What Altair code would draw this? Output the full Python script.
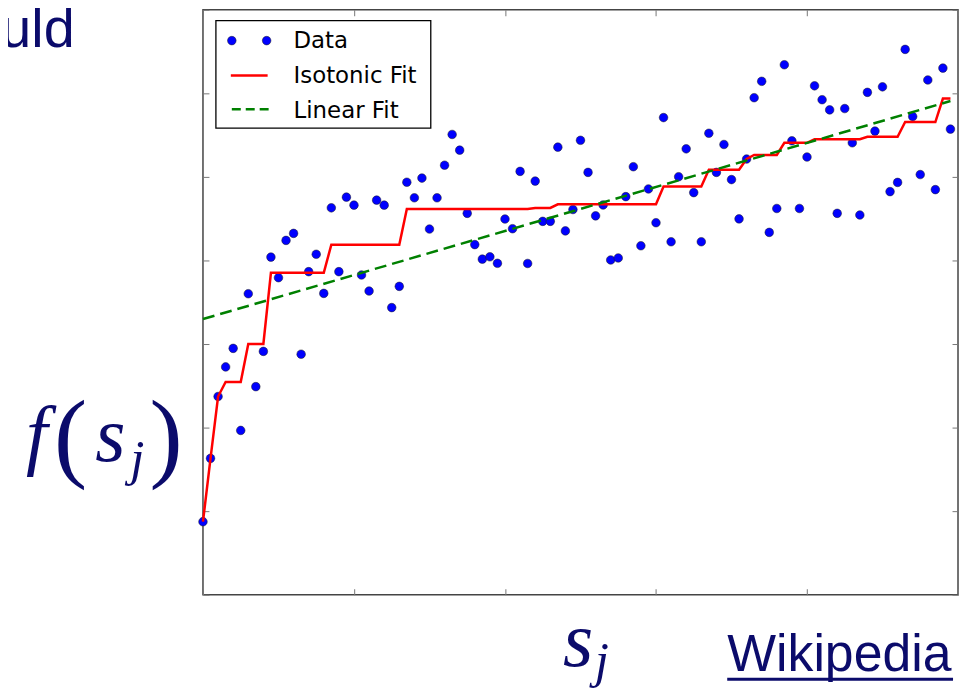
import altair as alt
import pandas as pd

# ---- data ----
x_vals = list(range(100))
y_vals = [
    -6.3, 31.6, 68.6, 86.3, 97.4, 48.3, 130.1, 74.5, 95.6, 152.0,
    139.7, 162.0, 166.2, 93.9, 143.3, 153.7, 130.3, 181.5, 143.3, 187.9,
    183.1, 141.3, 131.7, 186.1, 183.1, 121.8, 134.5, 196.8, 187.5, 199.3,
    168.8, 187.5, 207.0, 225.4, 216.0, 178.2, 159.5, 150.8, 152.2, 148.3,
    174.8, 169.0, 203.3, 148.2, 197.5, 173.4, 173.4, 217.8, 167.7, 180.5,
    221.9, 202.7, 176.7, 183.2, 150.3, 151.5, 188.2, 206.1, 158.8, 192.8,
    172.6, 235.5, 161.2, 200.1, 216.8, 190.6, 161.2, 226.1, 202.7, 219.4,
    198.4, 174.9, 210.7, 247.4, 257.2, 166.8, 181.1, 267.1, 221.6, 181.1,
    211.9, 254.5, 246.2, 240.1, 178.2, 240.9, 220.4, 177.2, 250.6, 227.4,
    253.9, 191.2, 196.7, 276.3, 236.1, 201.4, 258.0, 192.4, 265.1, 228.6,
]
legend_labels = ["Data", "Isotonic Fit", "Linear Fit"]
x_ticks = [0, 20, 40, 60, 80, 100]
y_ticks = [-50, 0, 50, 100, 150, 200, 250, 300]


def isotonic(values):
    """Pool-adjacent-violators: the isotonic fit of the data."""
    blocks = []
    for v in values:
        blocks.append([v, 1])
        while len(blocks) > 1 and blocks[-2][0] / blocks[-2][1] > blocks[-1][0] / blocks[-1][1]:
            s, c = blocks.pop()
            blocks[-1][0] += s
            blocks[-1][1] += c
    out = []
    for s, c in blocks:
        out += [s / c] * c
    return out


df = pd.DataFrame({"x": x_vals, "y": y_vals, "iso": isotonic(y_vals)})
one = pd.DataFrame({"k": [0]})

NAVY = "#0b0b6b"
BLUE = "#0000ff"
RED = "#ff0000"
GREEN = "#008000"
TICK = "#777777"

xs = alt.Scale(domain=[0, 100], nice=False, zero=False)
ys = alt.Scale(domain=[-50, 300], nice=False, zero=False)


def ax(orient, vals):
    return alt.Axis(orient=orient, values=vals, domain=False, labels=False, title=None,
                    grid=False, ticks=True, tickSize=6, offset=-6, tickColor=TICK, tickWidth=1)


base = alt.Chart(df)

points = base.mark_point(filled=True, size=75, fill=BLUE, stroke="#1a1a1a",
                         strokeWidth=0.5, opacity=1).encode(
    x=alt.X("x:Q", scale=xs, axis=ax("bottom", x_ticks)),
    y=alt.Y("y:Q", scale=ys, axis=ax("left", y_ticks)),
)

iso = base.mark_line(color=RED, strokeWidth=2.5).encode(
    x=alt.X("x:Q", scale=xs, axis=ax("top", x_ticks)),
    y=alt.Y("iso:Q", scale=ys, axis=ax("right", y_ticks)),
)

linfit = base.transform_regression("x", "y").mark_line(
    color=GREEN, strokeWidth=2.5, strokeDash=[12, 6]).encode(
    x=alt.X("x:Q", scale=xs, axis=None),
    y=alt.Y("y:Q", scale=ys, axis=None),
)

# ---- legend (upper left inside the frame) ----
leg_box = alt.Chart(one).mark_rect(fill="white", stroke="black", strokeWidth=1.3).encode(
    x=alt.value(13), x2=alt.value(229), y=alt.value(11), y2=alt.value(119))
leg_dot1 = alt.Chart(one).mark_point(filled=True, size=75, fill=BLUE, stroke="#1a1a1a",
                                     strokeWidth=0.5, opacity=1).encode(x=alt.value(29), y=alt.value(31))
leg_dot2 = alt.Chart(one).mark_point(filled=True, size=75, fill=BLUE, stroke="#1a1a1a",
                                     strokeWidth=0.5, opacity=1).encode(x=alt.value(64), y=alt.value(31))
leg_red = alt.Chart(one).mark_rule(color=RED, strokeWidth=2.5).encode(
    x=alt.value(28), x2=alt.value(65), y=alt.value(66))
leg_green = alt.Chart(one).mark_rule(color=GREEN, strokeWidth=2.5, strokeDash=[9, 5]).encode(
    x=alt.value(29), x2=alt.value(66), y=alt.value(100))


def txt(text, x, y, size, font, color, style="normal", align="center", baseline="alphabetic"):
    return alt.Chart(one).mark_text(text=text, font=font, fontSize=size, fontStyle=style,
                                    color=color, align=align, baseline=baseline).encode(
        x=alt.value(x), y=alt.value(y))


leg_texts = [
    txt(legend_labels[0], 91, 38, 23, "DejaVu Sans", "black", align="left"),
    txt(legend_labels[1], 91, 74, 23, "DejaVu Sans", "black", align="left"),
    txt(legend_labels[2], 91, 109, 23, "DejaVu Sans", "black", align="left"),
]

# ---- slide annotations around the plot ----
SERIF = "Liberation Serif"
annots = [
    txt("uld", -129, 37, 56, "Liberation Sans", NAVY, align="right"),
    txt("f", -167, 453, 78, SERIF, NAVY, style="italic"),
    txt("(", -133, 462, 100, SERIF, NAVY),
    txt("s", -93, 454, 78, SERIF, NAVY, style="italic"),
    txt("j", -66, 468, 51, SERIF, NAVY, style="italic"),
    txt(")", -37, 462, 100, SERIF, NAVY),
    txt("s", 377, 660, 78, SERIF, NAVY, style="italic"),
    txt("j", 401, 671, 51, SERIF, NAVY, style="italic"),
    txt("Wikipedia", 527, 665, 52, "Liberation Sans", NAVY, align="left"),
]
underline = alt.Chart(one).mark_rule(color=NAVY, strokeWidth=3).encode(
    x=alt.value(527), x2=alt.value(754), y=alt.value(673))

chart = alt.layer(
    points, iso, linfit,
    leg_box, leg_dot1, leg_dot2, leg_red, leg_green, *leg_texts,
    *annots, underline,
).resolve_axis(x="independent", y="independent").properties(
    width=759, height=588,
    autosize=alt.AutoSizeParams(type="none"),
    padding={"left": 196, "top": 0, "right": 1, "bottom": 94},
    background="white",
).configure_view(stroke="#444444", strokeWidth=1.5)

chart.save("out.html", embed_options={"renderer": "svg", "actions": False})
